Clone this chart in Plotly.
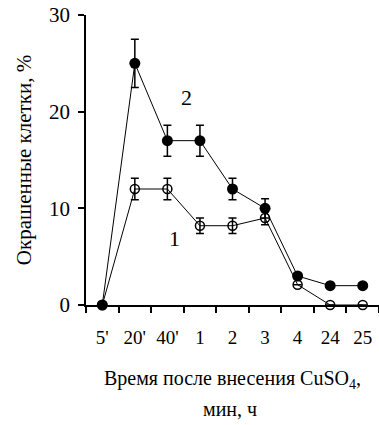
import plotly.graph_objects as go

categories = ["5'", "20'", "40'", "1", "2", "3", "4", "24", "25"]
series2 = [0, 25, 17, 17, 12, 10, 3, 2, 2]
series2_err = [0, 2.5, 1.6, 1.6, 1.1, 1.0, 0, 0, 0]
series1 = [0, 12, 12, 8.2, 8.2, 9, 2.1, 0, 0]
series1_err = [0, 1.1, 1.1, 0.8, 0.8, 0.7, 0, 0, 0]
y_ticks = [0, 10, 20, 30]

FONT = "Liberation Serif"

fig = go.Figure()
fig.add_trace(go.Scatter(
    x=categories, y=series1, mode="lines+markers", name="1",
    line=dict(color="black", width=1),
    marker=dict(symbol="circle-open", size=9, color="black", line=dict(width=1.5)),
    error_y=dict(type="data", array=series1_err, visible=True, color="black", thickness=1.5, width=4),
    cliponaxis=False,
))
fig.add_trace(go.Scatter(
    x=categories, y=series2, mode="lines+markers", name="2",
    line=dict(color="black", width=1),
    marker=dict(symbol="circle", size=11, color="black"),
    error_y=dict(type="data", array=series2_err, visible=True, color="black", thickness=1.5, width=4),
    cliponaxis=False,
))

fig.add_annotation(x=2.6, y=21.5, text="2", showarrow=False,
                   font=dict(family=FONT, size=22, color="black"))
fig.add_annotation(x=2.22, y=6.9, text="1", showarrow=False,
                   font=dict(family=FONT, size=22, color="black"))
fig.add_annotation(xref="paper", yref="paper", x=0.49, y=-0.36, text="мин, ч",
                   showarrow=False, yanchor="middle",
                   font=dict(family=FONT, size=20, color="black"))

fig.update_layout(
    width=379, height=425,
    margin=dict(l=86, r=0, t=15, b=120),
    paper_bgcolor="white", plot_bgcolor="white",
    showlegend=False,
    font=dict(family=FONT, color="black"),
)
fig.update_xaxes(
    type="category", range=[-0.5, 8.5], tickson="boundaries",
    ticks="outside", ticklen=6, tickwidth=1.5, tickcolor="black",
    showline=True, linecolor="black", linewidth=1.5,
    showgrid=False, zeroline=False,
    tickfont=dict(family=FONT, size=19, color="black"),
    ticklabelstandoff=14,
    title=dict(text="Время после внесения CuSO<sub>4</sub>,",
               font=dict(family=FONT, size=20, color="black"), standoff=24),
)
fig.update_yaxes(
    range=[0, 30], tickvals=y_ticks,
    ticks="outside", ticklen=6, tickwidth=1.5, tickcolor="black",
    showline=True, linecolor="black", linewidth=1.5,
    showgrid=False, zeroline=False,
    tickfont=dict(family=FONT, size=21, color="black"),
    ticklabelstandoff=4,
    title=dict(text="Окрашенные клетки, %",
               font=dict(family=FONT, size=21, color="black"), standoff=12),
)

fig.write_html("out.html")
